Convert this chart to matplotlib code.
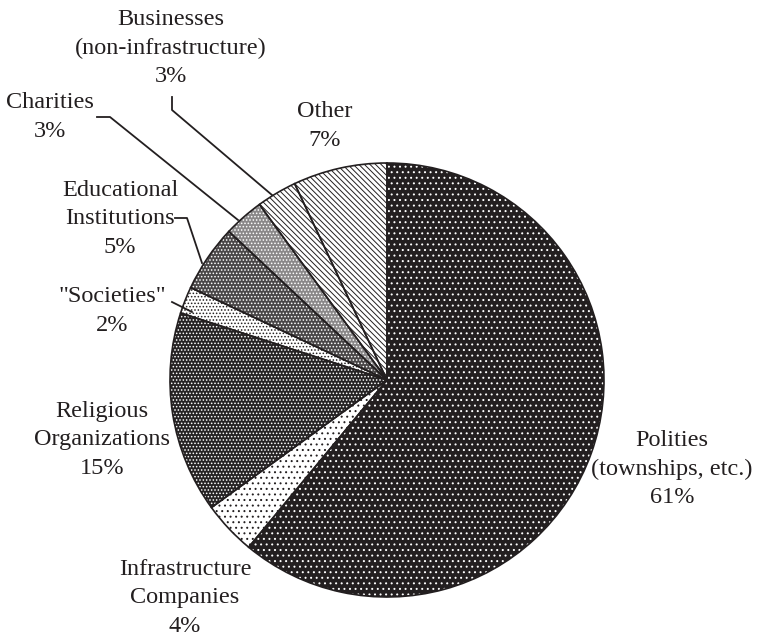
import matplotlib
matplotlib.use('Agg')
import matplotlib.pyplot as plt

# slice data, clockwise from 12 o'clock
labels = ['Polities\n(townships, etc.)', 'Infrastructure\nCompanies', 'Religious\nOrganizations',
          '"Societies"', 'Educational\nInstitutions', 'Charities', 'Businesses\n(non-infrastructure)', 'Other']
shares = [61, 4, 15, 2, 5, 3, 3, 7]

faces = ['#231f20', 'white', '#262324', 'white', '#4a4748', '#8a8889', 'white', 'white']
hatch_cols = ['white', '#231f20', 'white', '#231f20', 'white', 'white', '#231f20', '#231f20']
hatches = ['...', '...', '.....', '.....', '.....', '.....', '\\' * 6, '\\' * 6]

# label anchor points in pixel coords (y measured from top)
label_pos = [(672, 469), (185, 598), (102, 440), (112, 311), (120, 219), (50, 117), (171, 48), (325, 126)]

# leader lines, pixel coords (y from top)
leaders = [
    [(97, 117), (110, 117), (238, 220)],
    [(172, 97), (172, 110), (272, 195)],
    [(175, 218), (187, 218), (202, 263)],
    [(172, 302), (192, 312)],
]

W, H = 771, 641
CX, CY, R = 387, 380, 217

plt.rcParams['hatch.linewidth'] = 0.7
fig = plt.figure(figsize=(W / 100, H / 100), dpi=100)
ax = fig.add_axes([0, 0, 1, 1])

wedges, _ = ax.pie(shares, startangle=90, counterclock=False, center=(CX, H - CY), radius=R,
                   wedgeprops=dict(linewidth=0))
for w, fc, hc, h in zip(wedges, faces, hatch_cols, hatches):
    w.set_facecolor(fc)
    w.set_edgecolor(hc)
    w.set_hatch(h)
    w.set_linewidth(0)
ax.pie(shares, startangle=90, counterclock=False, center=(CX, H - CY), radius=R,
       wedgeprops=dict(fill=False, edgecolor='#231f20', linewidth=1.2))

for lab, s, (x, y) in zip(labels, shares, label_pos):
    ax.text(x, H - y, f'{lab}\n{s}%', ha='center', va='center', fontsize=17.5,
            family='Liberation Serif', color='#231f20', linespacing=1.45)

for pts in leaders:
    xs = [p[0] for p in pts]
    ys = [H - p[1] for p in pts]
    ax.plot(xs, ys, color='#231f20', lw=1.3)

ax.set_xlim(0, W)
ax.set_ylim(0, H)
ax.set_aspect('equal')
ax.axis('off')
fig.savefig('out.png', dpi=100, facecolor='white')
